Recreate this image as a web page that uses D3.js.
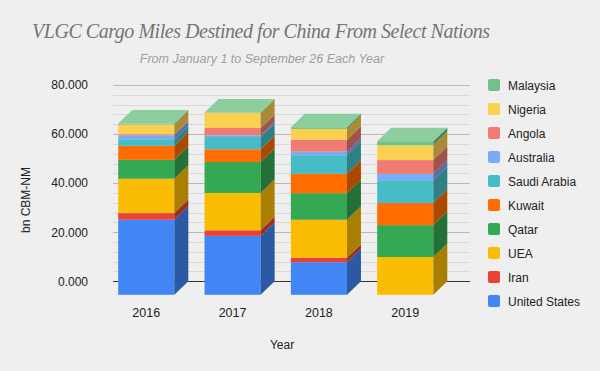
<!DOCTYPE html>
<html>
<head>
<meta charset="utf-8">
<script src="https://cdn.jsdelivr.net/npm/d3@7"></script>
<style>
  html, body { margin: 0; padding: 0; background: #efefef; }
  svg { display: block; font-family: Arial, "Liberation Sans", sans-serif; }
</style>
</head>
<body>
<svg id="chart" width="600" height="371"></svg>
<script>
// categories along the x axis
var years = ["2016", "2017", "2018", "2019"];

// stacking order, bottom to top
var countries = ["United States", "Iran", "UEA", "Qatar", "Kuwait",
                 "Saudi Arabia", "Australia", "Angola", "Nigeria", "Malaysia"];

var colors = ["#4285f4", "#ea4335", "#fbbc04", "#34a853", "#ff6d01",
              "#46bdc6", "#7baaf7", "#f07b72", "#fcd04f", "#71c287"];

// bn CBM-NM, one value per year
var unitedStates = [30.6, 24.0, 13.3, 0];
var iran         = [2.7, 2.3, 1.8, 0];
var uea          = [14.0, 15.2, 15.5, 15.4];
var qatar        = [7.7, 12.6, 10.8, 13.0];
var kuwait       = [5.7, 5.2, 7.9, 9.0];
var saudiArabia  = [2.7, 5.0, 7.6, 9.3];
var australia    = [1.6, 0.7, 1.4, 2.6];
var angola       = [0.4, 3.0, 4.9, 5.6];
var nigeria      = [4.0, 6.1, 4.4, 6.0];
var malaysia     = [0.4, 0.2, 0.7, 1.7];

var yTicks = [0, 20, 40, 60, 80];

var series = [unitedStates, iran, uea, qatar, kuwait,
              saudiArabia, australia, angola, nigeria, malaysia];

var rows = years.map(function(year, i) {
    var row = { year: year };
    countries.forEach(function(c, j) { row[c] = series[j][i]; });
    return row;
});

var DX = 14, DY = 13.5;   // depth of the 3D bars
var plotLeft = 113, plotRight = 470;

var svg = d3.select("#chart");

var x = d3.scaleBand()
    .domain(years)
    .range([88, 463.5])
    .paddingInner(0.35)
    .paddingOuter(0.35);

var y = d3.scaleLinear()
    .domain([0, 80])
    .range([281.3, 85]);

var color = d3.scaleOrdinal().domain(countries).range(colors);

function shade(c, k) {
    var rgb = d3.rgb(c);
    return d3.rgb(rgb.r * k, rgb.g * k, rgb.b * k).formatHex();
}

function tint(c, t) {
    return d3.interpolateRgb(c, "#ffffff")(t);
}

// titles
svg.append("text")
    .attr("x", 261)
    .attr("y", 38)
    .attr("text-anchor", "middle")
    .attr("font-family", "'Liberation Serif', 'DejaVu Serif', serif")
    .attr("font-style", "italic")
    .attr("font-size", "20px")
    .attr("textLength", 458)
    .attr("lengthAdjust", "spacing")
    .attr("fill", "#757575")
    .text("VLGC Cargo Miles Destined for China From Select Nations");

svg.append("text")
    .attr("x", 262)
    .attr("y", 63)
    .attr("text-anchor", "middle")
    .attr("font-style", "italic")
    .attr("font-size", "12.5px")
    .attr("fill", "#9e9e9e")
    .text("From January 1 to September 26 Each Year");

// gridlines (minor every 4, major every 20)
var minor = d3.range(0, 81, 4).filter(function(v) { return v % 20 !== 0; });
svg.append("g")
    .selectAll("line")
    .data(minor)
    .join("line")
    .attr("x1", plotLeft)
    .attr("x2", plotRight)
    .attr("y1", function(d) { return Math.round(y(d)) + 0.5; })
    .attr("y2", function(d) { return Math.round(y(d)) + 0.5; })
    .attr("stroke", "#dadada");

svg.append("g")
    .selectAll("line")
    .data(yTicks)
    .join("line")
    .attr("x1", plotLeft)
    .attr("x2", plotRight)
    .attr("y1", function(d) { return Math.round(y(d)) + 0.5; })
    .attr("y2", function(d) { return Math.round(y(d)) + 0.5; })
    .attr("stroke", function(d) { return d === 0 ? "#333333" : "#b9b9b9"; });

// y axis labels
var yAxis = d3.axisLeft(y)
    .tickValues(yTicks)
    .tickSize(0)
    .tickPadding(25)
    .tickFormat(d3.format(".3f"));

var gy = svg.append("g")
    .attr("transform", "translate(" + plotLeft + ",0)")
    .call(yAxis);
gy.select(".domain").remove();
gy.selectAll("text")
    .attr("font-size", "12px")
    .attr("font-family", "Arial, 'Liberation Sans', sans-serif")
    .attr("fill", "#222222");

svg.append("text")
    .attr("transform", "translate(30,200) rotate(-90)")
    .attr("text-anchor", "middle")
    .attr("font-size", "12px")
    .attr("fill", "#222222")
    .text("bn CBM-NM");

// stacked 3D bars
var stacked = d3.stack().keys(countries)(rows);

var bars = svg.append("g");

years.forEach(function(year, i) {
    var x0 = x(year), x1 = x0 + x.bandwidth();
    var g = bars.append("g");
    var topColor = null, topY = null;

    stacked.forEach(function(layer) {
        var d = layer[i];
        if (d[1] - d[0] <= 0) return;
        var c = color(layer.key);
        var yb = y(d[0]) + DY, yt = y(d[1]) + DY;

        g.append("rect")
            .attr("x", x0)
            .attr("y", yt)
            .attr("width", x1 - x0)
            .attr("height", yb - yt)
            .attr("fill", c);

        g.append("path")
            .attr("d", "M" + x1 + "," + yt +
                       "L" + (x1 + DX) + "," + (yt - DY) +
                       "L" + (x1 + DX) + "," + (yb - DY) +
                       "L" + x1 + "," + yb + "Z")
            .attr("fill", shade(c, 0.67));

        topColor = c;
        topY = yt;
    });

    if (topColor) {
        g.append("path")
            .attr("d", "M" + x0 + "," + topY +
                       "L" + (x0 + DX) + "," + (topY - DY) +
                       "L" + (x1 + DX) + "," + (topY - DY) +
                       "L" + x1 + "," + topY + "Z")
            .attr("fill", tint(topColor, 0.2));
    }
});

// x axis labels
svg.append("g")
    .selectAll("text")
    .data(years)
    .join("text")
    .attr("x", function(d) { return x(d) + x.bandwidth() / 2; })
    .attr("y", 317)
    .attr("text-anchor", "middle")
    .attr("font-size", "12.5px")
    .attr("fill", "#222222")
    .text(function(d) { return d; });

svg.append("text")
    .attr("x", 282)
    .attr("y", 349)
    .attr("text-anchor", "middle")
    .attr("font-size", "12px")
    .attr("fill", "#222222")
    .text("Year");

// legend, top series first
var legend = svg.append("g")
    .selectAll("g")
    .data(countries.slice().reverse())
    .join("g")
    .attr("transform", function(d, i) { return "translate(488," + (85 + i * 24) + ")"; });

legend.append("rect")
    .attr("x", 0)
    .attr("y", -6)
    .attr("width", 12)
    .attr("height", 12)
    .attr("rx", 2)
    .attr("fill", function(d) { return color(d); });

legend.append("text")
    .attr("x", 20)
    .attr("y", 4.5)
    .attr("font-size", "12px")
    .attr("fill", "#222222")
    .text(function(d) { return d; });
</script>
</body>
</html>
